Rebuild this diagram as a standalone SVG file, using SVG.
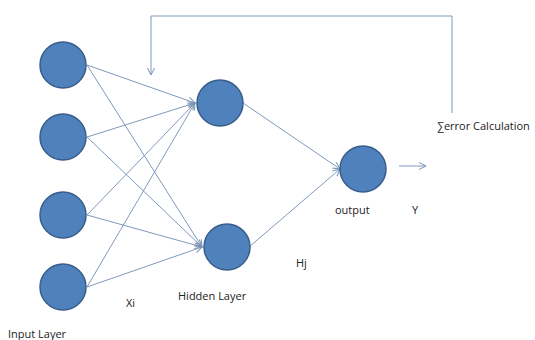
<svg xmlns="http://www.w3.org/2000/svg" width="535" height="340" viewBox="0 0 535 340">
<defs>
<style>
.n{fill:#4F81BD;stroke:#385D8A;stroke-width:1.5}
.c{stroke:#8099BB;stroke-width:1;fill:none}
.t{font-family:"Open Sans","Liberation Sans",sans-serif;font-size:11px;fill:#222}
</style>
<marker id="a" markerWidth="10" markerHeight="10" refX="8" refY="5" orient="auto" markerUnits="userSpaceOnUse">
<path d="M1,1.5 L8,5 L1,8.5" fill="none" stroke="#7A93B5" stroke-width="1"/>
</marker>
</defs>
<rect width="535" height="340" fill="#fff"/>
<g id="connectors">
<line class="c" x1="87" y1="65" x2="195" y2="103" marker-end="url(#a)"/>
<line class="c" x1="87" y1="65" x2="202" y2="247" marker-end="url(#a)"/>
<line class="c" x1="87" y1="137" x2="195" y2="103" marker-end="url(#a)"/>
<line class="c" x1="87" y1="137" x2="202" y2="247" marker-end="url(#a)"/>
<line class="c" x1="87" y1="215" x2="195" y2="103" marker-end="url(#a)"/>
<line class="c" x1="87" y1="215" x2="202" y2="247" marker-end="url(#a)"/>
<line class="c" x1="87" y1="287" x2="195" y2="103" marker-end="url(#a)"/>
<line class="c" x1="87" y1="287" x2="202" y2="247" marker-end="url(#a)"/>
<line class="c" x1="243" y1="103" x2="340" y2="169" marker-end="url(#a)"/>
<line class="c" x1="249" y1="247" x2="340" y2="169" marker-end="url(#a)"/>
<line class="c" x1="399" y1="166" x2="426" y2="166" marker-end="url(#a)"/>
<polyline class="c" points="452,113 452,16 151,16 151,75" marker-end="url(#a)"/>
</g>
<g id="in1"><circle class="n" cx="63" cy="65" r="23"/></g>
<g id="in2"><circle class="n" cx="63" cy="137" r="23"/></g>
<g id="in3"><circle class="n" cx="63" cy="215" r="23"/></g>
<g id="in4"><circle class="n" cx="63" cy="287" r="23"/></g>
<g id="h1"><circle class="n" cx="220" cy="103" r="23"/></g>
<g id="h2"><circle class="n" cx="227" cy="247" r="23"/></g>
<g id="out"><circle class="n" cx="363" cy="169" r="23"/></g>
<g id="labels">
<text class="t" x="8" y="338">Input Layer</text>
<text class="t" x="126" y="307">Xi</text>
<text class="t" x="178" y="300">Hidden Layer</text>
<text class="t" x="296" y="267">Hj</text>
<text class="t" x="335" y="214">output</text>
<text class="t" x="412" y="214">Y</text>
<text class="t" x="437" y="130">∑error Calculation</text>
</g>
</svg>
